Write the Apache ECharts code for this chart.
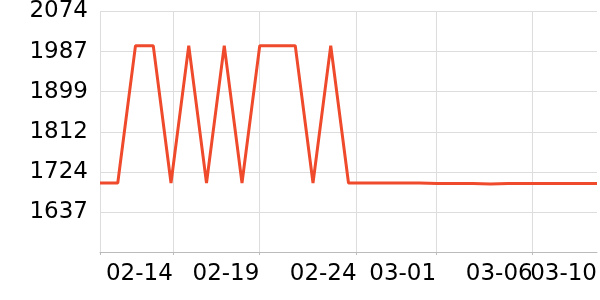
<!DOCTYPE html>
<html>
<head>
<meta charset="utf-8">
<script src="https://cdn.jsdelivr.net/npm/echarts@6/dist/echarts.min.js"></script>
<style>html,body{margin:0;padding:0;background:#fff}#c{width:600px;height:300px}</style>
</head>
<body>
<div id="c"></div>
<script>
const dates = ['2023-02-10','2023-02-11','2023-02-12','2023-02-13','2023-02-14','2023-02-15','2023-02-16','2023-02-17','2023-02-18','2023-02-19','2023-02-20','2023-02-21','2023-02-22','2023-02-23','2023-02-24','2023-02-25','2023-02-26','2023-02-27','2023-02-28','2023-03-01','2023-03-02','2023-03-03','2023-03-04','2023-03-05','2023-03-06','2023-03-07','2023-03-08','2023-03-09','2023-03-10'];
const values = [1700,1700,2000,2000,1700,2000,1700,2000,1700,2000,2000,2000,1700,2000,1700,1700,1700,1700,1700,1699,1699,1699,1698,1699,1699,1699,1699,1699,1699];
// tick positions (first = axis start, unlabeled; last = axis end, label only)
const tickTimes = ['2023-02-10 00:00','2023-02-14 02:24','2023-02-18 23:30','2023-02-24 11:00','2023-02-28 22:30','2023-03-06 09:00','2023-03-10 00:00'];
const tickLabels = ['','02-14','02-19','02-24','03-01','03-06','03-10'];
const yMin = 1549.5, yMax = 2074.5, yStep = 87.5;

const toTs = s => +echarts.number.parseDate(s);
const tickVals = tickTimes.map(toTs);
const xMin = toTs(dates[0]), xMax = toTs(dates[dates.length - 1]);
const labelOf = v => {
  for (let i = 0; i < tickVals.length; i++) if (Math.abs(tickVals[i] - v) < 1000) return tickLabels[i];
  return '';
};
const chart = echarts.init(document.getElementById('c'), null, {renderer: 'canvas'});
const font = 'DejaVu Sans';
const labelBase = {align: 'right', margin: 11, fontFamily: font, fontSize: 23, color: '#000', hideOverlap: false, formatter: labelOf};
chart.setOption({
  animation: false,
  grid: {left: 100, right: 0, top: 10, bottom: 48, containLabel: false},
  xAxis: [{
    type: 'value', min: xMin, max: xMax,
    axisLine: {show: true, lineStyle: {color: '#bbb', width: 1}},
    axisTick: {show: true, length: 3, customValues: tickVals.slice(0, -1), lineStyle: {color: '#bbb'}},
    splitLine: {show: true, lineStyle: {color: '#ddd', width: 1}},
    axisLabel: Object.assign({customValues: tickVals.slice(1, -1)}, labelBase)
  }, {
    type: 'value', min: xMin, max: xMax, position: 'bottom', offset: 0,
    axisLine: {show: false}, axisTick: {show: false}, splitLine: {show: false},
    axisLabel: Object.assign({customValues: tickVals.slice(-1)}, labelBase)
  }],
  yAxis: {
    type: 'value', min: yMin, max: yMax, interval: yStep,
    axisLine: {show: false}, axisTick: {show: false},
    splitLine: {show: true, lineStyle: {color: '#ddd', width: 1}},
    axisLabel: {
      showMinLabel: false, margin: 12, fontFamily: font, fontSize: 23, color: '#000',
      formatter: v => String(Math.floor(v))
    }
  },
  series: [{
    type: 'line', xAxisIndex: 0,
    data: dates.map((d, i) => [toTs(d), values[i]]),
    showSymbol: false, symbol: 'none',
    lineStyle: {color: '#ef4a2c', width: 3},
    itemStyle: {color: '#ef4a2c'}
  }]
});
</script>
</body>
</html>
